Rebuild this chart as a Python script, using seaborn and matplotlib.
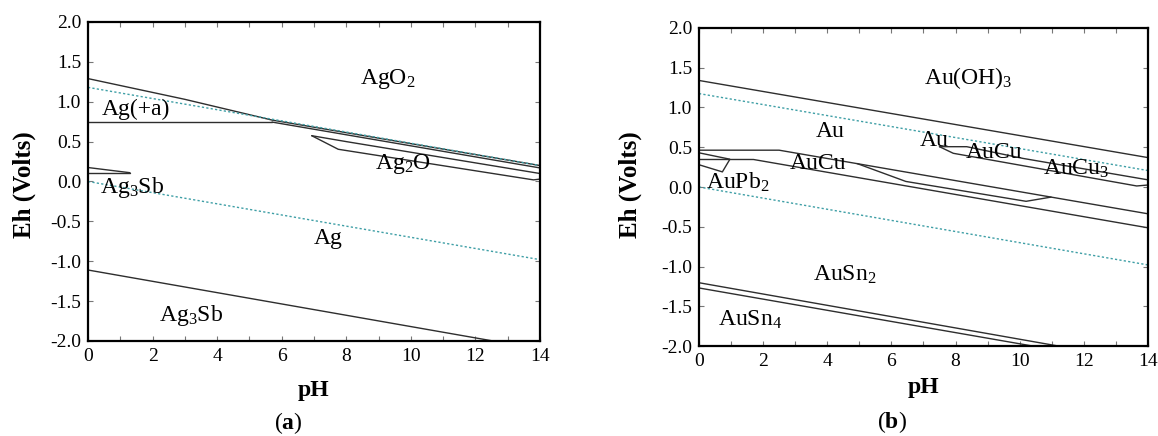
import matplotlib
matplotlib.use("Agg")
import matplotlib.pyplot as plt
import seaborn as sns

# --- Panel (a): Ag system, Eh (V) vs pH ---
a_top_ph = [0, 3.0, 5.7, 14]
a_top_eh = [1.29, 1.03, 0.77, 0.20]
a_top2_ph = [5.7, 14]
a_top2_eh = [0.745, 0.17]
a_flat_ph = [0, 5.7]
a_flat_eh = [0.74, 0.74]
a_ag2o_top_ph = [6.93, 8.0, 14]
a_ag2o_top_eh = [0.574, 0.50, 0.10]
a_ag2o_bot_ph = [6.93, 7.75, 13.8, 14]
a_ag2o_bot_eh = [0.574, 0.404, 0.02, 0.03]
a_sb_top_ph = [0, 1.3]
a_sb_top_eh = [0.175, 0.11]
a_sb_flat_ph = [0, 1.3]
a_sb_flat_eh = [0.11, 0.11]
a_low_ph = [0, 12.55]
a_low_eh = [-1.11, -2.0]
a_wat_hi_eh = [1.18, 0.20]
a_wat_lo_eh = [0.0, -0.98]

a_labels = ["AgO$_2$", "Ag(+a)", "Ag$_2$O", "Ag$_3$Sb", "Ag", "Ag$_3$Sb"]
a_label_ph = [9.3, 1.5, 9.75, 1.35, 7.45, 3.2]
a_label_eh = [1.28, 0.91, 0.22, -0.07, -0.72, -1.68]

# --- Panel (b): Au system ---
b_top_ph = [0, 14]
b_top_eh = [1.34, 0.37]
b_mid1_ph = [0, 2.5, 14]
b_mid1_eh = [0.463, 0.463, -0.337]
b_mid2_ph = [0, 1.7, 14]
b_mid2_eh = [0.346, 0.346, -0.513]
b_pb1_ph = [0, 0.96]
b_pb1_eh = [0.43, 0.35]
b_pb2_ph = [0, 0.73, 0.96]
b_pb2_eh = [0.28, 0.19, 0.346]
b_cu_ph = [4.93, 6.45, 10.2, 10.98]
b_cu_eh = [0.295, 0.07, -0.18, -0.127]
b_cu3a_ph = [7.5, 7.93, 13.65, 14]
b_cu3a_eh = [0.507, 0.424, 0.013, 0.025]
b_cu3b_ph = [7.5, 8.35, 10.1, 14]
b_cu3b_eh = [0.507, 0.507, 0.36, 0.09]
b_sn1_ph = [0, 11.2]
b_sn1_eh = [-1.204, -2.0]
b_sn2_ph = [0, 10.4]
b_sn2_eh = [-1.27, -2.0]
b_wat_hi_eh = [1.175, 0.207]
b_wat_lo_eh = [0.0, -0.98]

b_labels = ["Au(OH)$_3$", "Au", "Au", "AuCu", "AuCu$_3$", "AuCu",
            "AuPb$_2$", "AuSn$_2$", "AuSn$_4$"]
b_label_ph = [8.4, 4.1, 7.35, 9.2, 11.75, 3.7, 1.2, 4.55, 1.6]
b_label_eh = [1.37, 0.70, 0.58, 0.43, 0.23, 0.29, 0.06, -1.11, -1.67]

water_ph = [0, 14]
pH_ticks = [0, 2, 4, 6, 8, 10, 12, 14]
eh_ticks = [-2.0, -1.5, -1.0, -0.5, 0.0, 0.5, 1.0, 1.5, 2.0]

sns.set_theme(style="ticks")
plt.rcParams["font.family"] = ["Liberation Serif", "DejaVu Serif"]
plt.rcParams["mathtext.fontset"] = "custom"
plt.rcParams["mathtext.rm"] = "Liberation Serif"
plt.rcParams["mathtext.it"] = "Liberation Serif:italic"
plt.rcParams["mathtext.bf"] = "Liberation Serif:bold"
plt.rcParams["mathtext.default"] = "regular"
plt.rcParams["text.color"] = "black"
plt.rcParams["axes.labelcolor"] = "black"

LINE = "#2e2e2e"
WATER = "#3f9fa6"

fig = plt.figure(figsize=(11.58, 4.36), dpi=100)
ax_a = fig.add_axes([0.0760, 0.2179, 0.3903, 0.7317])
ax_b = fig.add_axes([0.6036, 0.2064, 0.3877, 0.7294])


def draw_line(ax, ph, eh, color=LINE, dotted=False):
    sns.lineplot(x=ph, y=eh, ax=ax, sort=False, estimator=None,
                 color=color, linewidth=1.0,
                 linestyle=(0, (1.6, 1.6)) if dotted else "-")


def style_axes(ax, xlab_y, ylab_x, ylab_y):
    ax.set_xlim(0, 14)
    ax.set_ylim(-2.0, 2.0)
    ax.set_xticks(pH_ticks)
    ax.set_xticks([1, 3, 5, 7, 9, 11, 13], minor=True)
    ax.set_yticks(eh_ticks)
    ax.set_xticklabels([str(t) for t in pH_ticks])
    ax.set_yticklabels([f"{t:.1f}" for t in eh_ticks])
    ax.tick_params(which="both", direction="in", top=True, right=True,
                   length=3.5, width=0.8, color="#777777",
                   labelsize=14, pad=5, labelcolor="black")
    for sp in ax.spines.values():
        sp.set_linewidth(1.6)
        sp.set_color("black")
    ax.set_xlabel("pH", fontsize=17, fontweight="bold")
    ax.set_ylabel("Eh (Volts)", fontsize=18, fontweight="bold")
    ax.xaxis.label.set_verticalalignment("center")
    ax.yaxis.label.set_verticalalignment("center")
    ax.xaxis.set_label_coords(0.5, xlab_y)
    ax.yaxis.set_label_coords(ylab_x, ylab_y)


# panel (a)
for ph, eh in [(a_top_ph, a_top_eh), (a_top2_ph, a_top2_eh),
               (a_flat_ph, a_flat_eh), (a_ag2o_top_ph, a_ag2o_top_eh),
               (a_ag2o_bot_ph, a_ag2o_bot_eh), (a_sb_top_ph, a_sb_top_eh),
               (a_sb_flat_ph, a_sb_flat_eh), (a_low_ph, a_low_eh)]:
    draw_line(ax_a, ph, eh)
draw_line(ax_a, water_ph, a_wat_hi_eh, WATER, dotted=True)
draw_line(ax_a, water_ph, a_wat_lo_eh, WATER, dotted=True)
for lab, x, y in zip(a_labels, a_label_ph, a_label_eh):
    ax_a.text(x, y, lab, fontsize=17, ha="center", va="center")
style_axes(ax_a, -0.154, -0.1416, 0.489)

# panel (b)
for ph, eh in [(b_top_ph, b_top_eh), (b_mid1_ph, b_mid1_eh),
               (b_mid2_ph, b_mid2_eh), (b_pb1_ph, b_pb1_eh),
               (b_pb2_ph, b_pb2_eh), (b_cu_ph, b_cu_eh),
               (b_cu3a_ph, b_cu3a_eh), (b_cu3b_ph, b_cu3b_eh),
               (b_sn1_ph, b_sn1_eh), (b_sn2_ph, b_sn2_eh)]:
    draw_line(ax_b, ph, eh)
draw_line(ax_b, water_ph, b_wat_hi_eh, WATER, dotted=True)
draw_line(ax_b, water_ph, b_wat_lo_eh, WATER, dotted=True)
for lab, x, y in zip(b_labels, b_label_ph, b_label_eh):
    ax_b.text(x, y, lab, fontsize=17, ha="center", va="center")
style_axes(ax_b, -0.129, -0.1537, 0.508)

fig.text(0.249, 0.030, r"($\mathbf{a}$)", fontsize=17, ha="center", va="center")
fig.text(0.770, 0.032, r"($\mathbf{b}$)", fontsize=17, ha="center", va="center")

fig.savefig("out.png", dpi=100)
